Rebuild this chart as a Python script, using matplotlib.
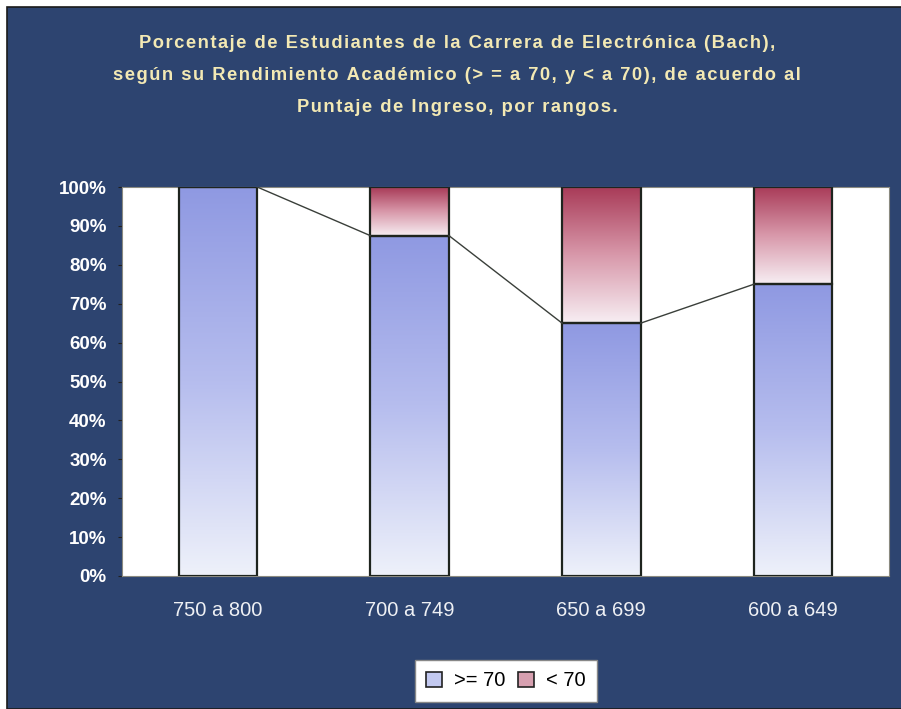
import numpy as np
import matplotlib
matplotlib.use("Agg")
import matplotlib.pyplot as plt
from matplotlib.colors import LinearSegmentedColormap
from matplotlib.patches import Rectangle, Patch

categories = ["750 a 800", "700 a 749", "650 a 699", "600 a 649"]
pct_aprobado = [100, 87.5, 65, 75]      # >= 70
pct_reprobado = [0, 12.5, 35, 25]       # < 70
legend_labels = [">= 70", "< 70"]
title_lines = [
    "Porcentaje de Estudiantes de la Carrera de Electrónica (Bach),",
    "según su Rendimiento Académico (> = a 70, y < a 70), de acuerdo al",
    "Puntaje de Ingreso, por rangos.",
]

NAVY = "#2d4470"
TITLE_COLOR = "#f3e9b4"
blue_cmap = LinearSegmentedColormap.from_list("azul", ["#eef1fa", "#b6bdee", "#8f99e2"])
red_cmap = LinearSegmentedColormap.from_list("rojo", ["#f7eef3", "#d898aa", "#a83a57"])
grad = np.linspace(0, 1, 256).reshape(-1, 1)

W, H = 901, 709
fig = plt.figure(figsize=(W / 100, H / 100), dpi=100, facecolor="white")
fig.patches.append(Rectangle((7 / W, 0), 1, (H - 7) / H, transform=fig.transFigure,
                             facecolor=NAVY, edgecolor="#1a1a1a", linewidth=1.2, zorder=-10))

ax = fig.add_axes([122 / W, (H - 576) / H, (889 - 122) / W, 389 / H])
ax.set_facecolor("white")

width = 0.41
x = np.arange(len(categories))
for i in x:
    lo, hi = 0, pct_aprobado[i]
    ax.imshow(grad, cmap=blue_cmap, origin="lower", aspect="auto",
              extent=[i - width / 2, i + width / 2, lo, hi], zorder=2)
    if pct_reprobado[i] > 0:
        ax.imshow(grad, cmap=red_cmap, origin="lower", aspect="auto",
                  extent=[i - width / 2, i + width / 2, hi, hi + pct_reprobado[i]], zorder=2)

ax.bar(x, pct_aprobado, width, fill=False, edgecolor="#1e241e", linewidth=1.6, zorder=3)
ax.bar(x, pct_reprobado, width, bottom=pct_aprobado, fill=False,
       edgecolor="#1e241e", linewidth=1.6, zorder=3)

# lineas de serie entre barras
for i in range(len(categories) - 1):
    ax.plot([i + width / 2, i + 1 - width / 2], [pct_aprobado[i], pct_aprobado[i + 1]],
            color="#3a3f3a", linewidth=1.0, zorder=3)

ax.set_xlim(-0.5, len(categories) - 0.5)
ax.set_ylim(0, 100)
ax.set_yticks(range(0, 101, 10))
ax.set_yticklabels([f"{v}%" for v in range(0, 101, 10)], color="white",
                   fontsize=13.5, fontweight="bold", family="Liberation Sans")
ax.set_xticks(x)
ax.set_xticklabels(categories, color="#eef0f4", fontsize=14.5, family="Liberation Sans")
ax.tick_params(axis="y", length=3, color="#202020", pad=8)
ax.tick_params(axis="x", length=0, pad=18)
for s in ax.spines.values():
    s.set_color("#8a8a80")
    s.set_linewidth(0.8)

# titulo con letras espaciadas
for k, line in enumerate(title_lines):
    spaced = "\u200a".join(line)
    fig.text(457 / W, 1 - (44 + 31.5 * k) / H, spaced, ha="center", va="center",
             color=TITLE_COLOR, fontsize=13.2, fontweight="bold",
             family=["Liberation Sans", "DejaVu Sans"])

handles = [Patch(facecolor="#c3c9f0", edgecolor="#222222", linewidth=1.2),
           Patch(facecolor="#d7a0b0", edgecolor="#222222", linewidth=1.2)]
leg = fig.legend(handles, legend_labels, loc="center", bbox_to_anchor=(506 / W, 1 - 681 / H),
                 ncol=2, frameon=True, fancybox=False, handlelength=0.8, handleheight=0.8,
                 handletextpad=0.6, columnspacing=0.6, borderpad=0.55,
                 prop={"family": "Liberation Sans", "size": 14.5})
leg.get_frame().set_facecolor("white")
leg.get_frame().set_edgecolor("#888888")
leg.get_frame().set_alpha(1)

fig.savefig("out.png", dpi=100, facecolor=fig.get_facecolor())
